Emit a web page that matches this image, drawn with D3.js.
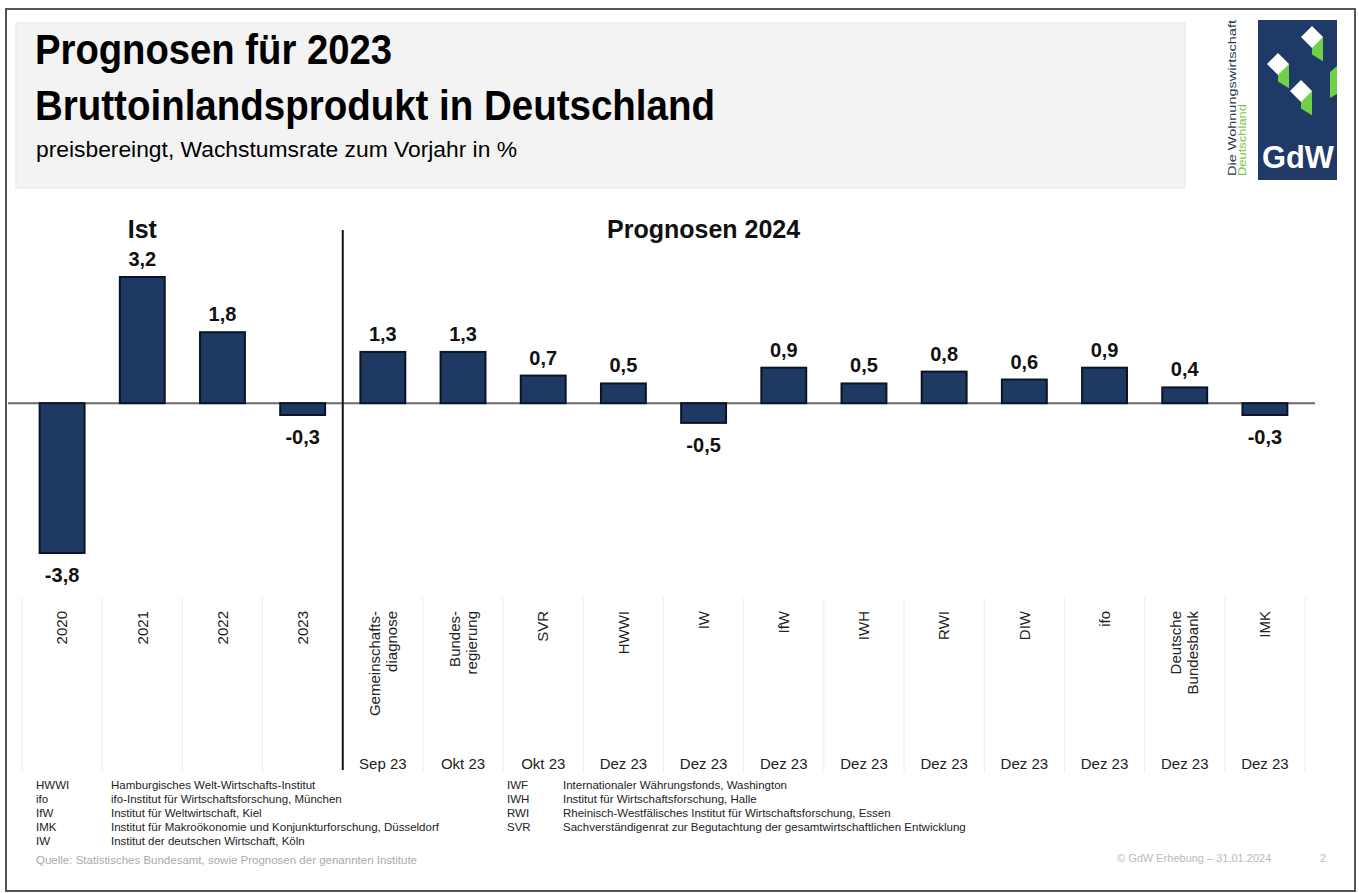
<!DOCTYPE html>
<html>
<head>
	<title>BIP Prognosen</title>
    <style>
    body { margin: 0; background: #fff; }
    svg { font-family: "Liberation Sans", Arial, sans-serif; }
    .value { font-size: 20px; font-weight: bold; fill: #111; }
    .cat { font-size: 15px; fill: #222; }
    .date { font-size: 15px; fill: #222; }
    .legend { font-size: 11.5px; fill: #222; }
    </style>
</head>
<body>
	<div id="chart"></div>
    <script src="https://d3js.org/d3.v7.min.js"></script>
    <script>
// data
var categories = ["2020", "2021", "2022", "2023", "Gemeinschaftsdiagnose", "Bundesregierung", "SVR", "HWWI", "IW", "IfW", "IWH", "RWI", "DIW", "ifo", "Deutsche Bundesbank", "IMK"];
var categoryLabels = [["2020"], ["2021"], ["2022"], ["2023"], ["Gemeinschafts-", "diagnose"], ["Bundes-", "regierung"], ["SVR"], ["HWWI"], ["IW"], ["IfW"], ["IWH"], ["RWI"], ["DIW"], ["ifo"], ["Deutsche", "Bundesbank"], ["IMK"]];
var values = [-3.8, 3.2, 1.8, -0.3, 1.3, 1.3, 0.7, 0.5, -0.5, 0.9, 0.5, 0.8, 0.6, 0.9, 0.4, -0.3];
var dates = ["", "", "", "", "Sep 23", "Okt 23", "Okt 23", "Dez 23", "Dez 23", "Dez 23", "Dez 23", "Dez 23", "Dez 23", "Dez 23", "Dez 23", "Dez 23"];
var groupNames = ["Ist", "Prognosen 2024"];
var groupAnchors = ["2021", "IW"];
var legendLeft = [
  ["HWWI", "Hamburgisches Welt-Wirtschafts-Institut"],
  ["ifo", "ifo-Institut für Wirtschaftsforschung, München"],
  ["IfW", "Institut für Weltwirtschaft, Kiel"],
  ["IMK", "Institut für Makroökonomie und Konjunkturforschung, Düsseldorf"],
  ["IW", "Institut der deutschen Wirtschaft, Köln"]
];
var legendRight = [
  ["IWF", "Internationaler Währungsfonds, Washington"],
  ["IWH", "Institut für Wirtschaftsforschung, Halle"],
  ["RWI", "Rheinisch-Westfälisches Institut für Wirtschaftsforschung, Essen"],
  ["SVR", "Sachverständigenrat zur Begutachtung der gesamtwirtschaftlichen Entwicklung"]
];

var width = 1359;
var height = 893;
var barFill = "#1e3a62";
var barStroke = "#0a1424";

var svg = d3.select("#chart")
          .append("svg")
          .attr("width", width)
          .attr("height", height);

// frame + header band
svg.append("rect")
   .attr("x", 6).attr("y", 9)
   .attr("width", 1349).attr("height", 882)
   .attr("fill", "#fff")
   .attr("stroke", "#555").attr("stroke-width", 2);

svg.append("rect")
   .attr("x", 16).attr("y", 23)
   .attr("width", 1169).attr("height", 165)
   .attr("fill", "#f3f3f3")
   .attr("stroke", "#e6e6e6");

svg.append("text")
   .attr("x", 35).attr("y", 64)
   .attr("font-size", 43).attr("font-weight", "bold")
   .attr("textLength", 357).attr("lengthAdjust", "spacingAndGlyphs")
   .text("Prognosen für 2023");

svg.append("text")
   .attr("x", 35).attr("y", 120)
   .attr("font-size", 43).attr("font-weight", "bold")
   .attr("textLength", 680).attr("lengthAdjust", "spacingAndGlyphs")
   .text("Bruttoinlandsprodukt in Deutschland");

svg.append("text")
   .attr("x", 36).attr("y", 157)
   .attr("font-size", 22)
   .attr("textLength", 481).attr("lengthAdjust", "spacingAndGlyphs")
   .text("preisbereingt, Wachstumsrate zum Vorjahr in %");

// logo
var logo = svg.append("g");
logo.append("rect")
    .attr("x", 1258).attr("y", 20)
    .attr("width", 79).attr("height", 160)
    .attr("fill", "#1f3a66");
[[1312, 37, 11], [1278, 64, 11], [1301, 91, 11]].forEach(function(c) {
  var cx = c[0], cy = c[1], r = c[2];
  logo.append("path")
      .attr("d", "M" + cx + "," + cy + " l" + r + ",0 l0," + (r * 2.2) + " l" + (-r) + "," + (-r * 0.6) + "Z")
      .attr("fill", "#6fd04a");
  logo.append("path")
      .attr("d", "M" + cx + "," + (cy - r) + " L" + (cx + r) + "," + cy + " L" + cx + "," + (cy + r) + " L" + (cx - r) + "," + cy + "Z")
      .attr("fill", "#fff");
});
logo.append("path")
    .attr("d", "M1330,72 l7,-6 l0,28 l-7,4Z")
    .attr("fill", "#6fd04a");
logo.append("text")
    .attr("x", 1298).attr("y", 168)
    .attr("text-anchor", "middle")
    .attr("font-size", 32).attr("font-weight", "bold")
    .attr("fill", "#fff")
    .attr("textLength", 72).attr("lengthAdjust", "spacingAndGlyphs")
    .text("GdW");
logo.append("text")
    .attr("transform", "translate(1236,176) rotate(-90)")
    .attr("font-size", 10).attr("fill", "#2b3550")
    .attr("textLength", 156).attr("lengthAdjust", "spacingAndGlyphs")
    .text("Die Wohnungswirtschaft");
logo.append("text")
    .attr("transform", "translate(1246,176) rotate(-90)")
    .attr("font-size", 10).attr("fill", "#7cc242")
    .attr("textLength", 72).attr("lengthAdjust", "spacingAndGlyphs")
    .text("Deutschland");

// scales
var x = d3.scaleBand()
          .domain(categories)
          .range([22, 1305])
          .paddingInner(0.44)
          .paddingOuter(0.22);

var y = d3.scaleLinear()
          .domain([-3.8, 3.2])
          .range([553, 277]);

var step = x.step();
var boundary = function(c) { return x(c) - (step - x.bandwidth()) / 2; };

// light grid in the label area
var bounds = categories.map(boundary).concat([boundary(categories[categories.length - 1]) + step]);
svg.append("g")
   .selectAll("line")
   .data(bounds).enter()
   .append("line")
   .attr("x1", d => d).attr("x2", d => d)
   .attr("y1", 598).attr("y2", 772)
   .attr("stroke", "#ececec").attr("stroke-width", 1);

// zero line
svg.append("line")
   .attr("x1", 8).attr("x2", 1315)
   .attr("y1", y(0)).attr("y2", y(0))
   .attr("stroke", "#6a6a6a").attr("stroke-width", 2);

// bars
svg.append("g")
   .selectAll("rect")
   .data(values).enter()
   .append("rect")
   .attr("x", (d, i) => x(categories[i]))
   .attr("width", x.bandwidth())
   .attr("y", d => y(Math.max(0, d)))
   .attr("height", d => Math.abs(y(d) - y(0)))
   .attr("fill", barFill)
   .attr("stroke", barStroke).attr("stroke-width", 2);

// value labels
svg.append("g")
   .selectAll("text")
   .data(values).enter()
   .append("text")
   .attr("class", "value")
   .attr("text-anchor", "middle")
   .attr("x", (d, i) => x(categories[i]) + x.bandwidth() / 2)
   .attr("y", d => d >= 0 ? y(d) - 11 : y(d) + 29)
   .text(d => d3.format(".1f")(d).replace(".", ",").replace("−", "-"));

// separator between actual and forecast
var sepX = boundary(categories[4]);
svg.append("line")
   .attr("x1", sepX).attr("x2", sepX)
   .attr("y1", 230).attr("y2", 770)
   .attr("stroke", "#111").attr("stroke-width", 2);

// group headings
svg.append("g")
   .selectAll("text")
   .data(groupNames).enter()
   .append("text")
   .attr("x", (d, i) => x(groupAnchors[i]) + x.bandwidth() / 2)
   .attr("y", 238)
   .attr("text-anchor", "middle")
   .attr("font-size", 25).attr("font-weight", "bold")
   .attr("fill", "#111")
   .text(d => d);

// rotated category labels
var lineH = 17;
var catG = svg.append("g")
   .selectAll("text")
   .data(categoryLabels).enter()
   .append("text")
   .attr("class", "cat")
   .attr("text-anchor", "end")
   .attr("transform", (d, i) => "translate(" + (x(categories[i]) + x.bandwidth() / 2) + ",611) rotate(-90)");

catG.selectAll("tspan")
    .data(d => d.map((t, j) => ({t: t, off: (j - (d.length - 1) / 2) * lineH})))
    .enter()
    .append("tspan")
    .attr("x", 0)
    .attr("y", d => d.off)
    .attr("dy", "0.35em")
    .text(d => d.t);

// dates
svg.append("g")
   .selectAll("text")
   .data(dates).enter()
   .append("text")
   .attr("class", "date")
   .attr("text-anchor", "middle")
   .attr("x", (d, i) => x(categories[i]) + x.bandwidth() / 2)
   .attr("y", 769)
   .text(d => d);

// abbreviations
function legendBlock(rows, ax, dx) {
  var g = svg.append("g");
  rows.forEach(function(r, i) {
    g.append("text").attr("class", "legend").attr("x", ax).attr("y", 789 + i * 14).text(r[0]);
    g.append("text").attr("class", "legend").attr("x", dx).attr("y", 789 + i * 14).text(r[1]);
  });
}
legendBlock(legendLeft, 36, 111);
legendBlock(legendRight, 507, 563);

svg.append("text")
   .attr("x", 36).attr("y", 864)
   .attr("font-size", 11.5).attr("fill", "#aaa")
   .text("Quelle: Statistisches Bundesamt, sowie Prognosen der genannten Institute");

svg.append("text")
   .attr("x", 1117).attr("y", 862)
   .attr("font-size", 11).attr("fill", "#bbb")
   .text("© GdW Erhebung – 31.01.2024");

svg.append("text")
   .attr("x", 1320).attr("y", 862)
   .attr("font-size", 11).attr("fill", "#bbb")
   .text("2");
    </script>
</body>
</html>
